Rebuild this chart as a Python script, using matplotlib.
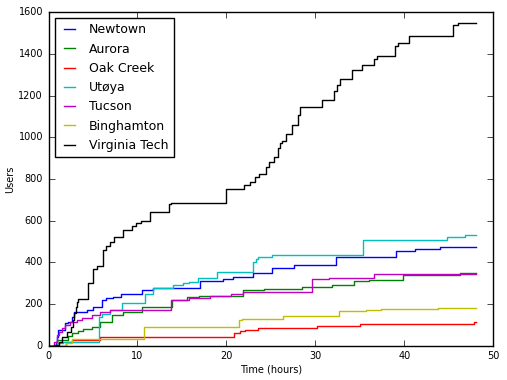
import matplotlib
matplotlib.use("Agg")
import matplotlib.pyplot as plt

plt.style.use("classic")

names = ["Newtown", "Aurora", "Oak Creek", "Utøya", "Tucson", "Binghamton", "Virginia Tech"]
colors = ["b", "g", "r", "c", "m", "y", "k"]

newtown_t = [0, 0.8, 1.0, 1.1, 1.8, 2.2, 2.6, 2.9, 4.3, 5.0, 6.0, 6.5, 7.3, 8.2, 10.5, 11.8, 17.0, 19.6, 20.7, 23.0, 25.1, 27.6, 32.3, 39.1, 41.2, 44.0, 48.0]
newtown_v = [0, 20, 43, 75, 107, 115, 139, 163, 170, 187, 219, 227, 235, 246, 267, 275, 310, 320, 331, 347, 371, 387, 424, 454, 462, 472, 472]

aurora_t = [0, 0.9, 2.2, 2.6, 3.35, 3.9, 4.85, 5.8, 7.1, 8.4, 10.5, 13.9, 15.6, 16.9, 21.9, 24.2, 28.5, 31.9, 34.3, 36.0, 39.8, 46.3, 48.0]
aurora_v = [0, 27, 47, 59, 70, 79, 91, 115, 147, 163, 187, 219, 232, 238, 265, 270, 283, 290, 310, 315, 338, 347, 347]

oakcreek_t = [0, 2.0, 2.6, 5.8, 20.9, 21.5, 22.1, 23.5, 30.2, 35.0, 47.8, 48.0]
oakcreek_v = [0, 16, 27, 43, 62, 69, 75, 83, 94, 103, 115, 115]

utoya_t = [0, 0.6, 1.0, 1.6, 5.7, 6.0, 6.9, 8.3, 10.9, 11.8, 14.0, 15.1, 15.8, 16.8, 18.9, 23.0, 23.3, 23.6, 25.1, 35.3, 44.8, 46.8, 48.0]
utoya_v = [0, 5, 12, 19, 139, 152, 171, 206, 248, 275, 291, 302, 307, 323, 355, 403, 414, 424, 435, 507, 520, 530, 530]

tucson_t = [0, 0.6, 0.9, 1.2, 1.5, 1.9, 2.4, 3.2, 3.8, 4.9, 5.8, 6.9, 13.8, 15.8, 18.2, 20.5, 21.9, 29.6, 31.5, 36.6, 48.0]
tucson_v = [0, 20, 51, 67, 83, 99, 115, 125, 135, 147, 163, 173, 221, 227, 238, 248, 259, 318, 325, 342, 342]

bing_t = [0, 2.0, 2.6, 10.7, 21.4, 21.7, 26.4, 32.7, 35.7, 37.4, 43.8, 48.0]
bing_v = [0, 12, 30, 91, 123, 128, 144, 166, 171, 175, 182, 182]

vt_t = [0, 0.6, 1.2, 1.55, 2.1, 2.5, 2.7, 2.9, 3.05, 3.2, 3.3, 4.4, 5.0, 5.4, 6.1, 6.5, 6.9, 7.4, 8.4, 9.4, 9.8, 10.4, 11.4, 13.5, 13.8, 19.9, 22.0, 22.6, 23.2, 23.65, 24.4, 24.8, 25.3, 25.8, 26.05, 26.2, 26.7, 27.4, 28.0, 28.3, 30.7, 32.1, 32.45, 32.8, 34.1, 35.2, 36.6, 36.9, 38.9, 39.3, 40.5, 45.5, 46.0, 48.0]
vt_v = [0, 3, 19, 43, 67, 91, 123, 155, 187, 211, 222, 302, 366, 384, 459, 478, 499, 520, 555, 574, 587, 600, 640, 680, 683, 750, 771, 787, 808, 823, 859, 880, 906, 947, 974, 983, 1015, 1059, 1107, 1146, 1178, 1222, 1250, 1278, 1322, 1346, 1374, 1389, 1437, 1450, 1485, 1538, 1549, 1549]

series_t = [newtown_t, aurora_t, oakcreek_t, utoya_t, tucson_t, bing_t, vt_t]
series_v = [newtown_v, aurora_v, oakcreek_v, utoya_v, tucson_v, bing_v, vt_v]

xticks = [0, 10, 20, 30, 40, 50]
yticks = [0, 200, 400, 600, 800, 1000, 1200, 1400, 1600]

fig = plt.figure(figsize=(5.07, 3.8), dpi=100, facecolor="white")
ax = fig.add_axes([0.0957, 0.0903, 0.973 - 0.0957, 0.968 - 0.0903])

for t, v, name, c in zip(series_t, series_v, names, colors):
    ax.step(t, v, where="post", color=c, lw=1.0, label=name)

ax.set_xlim(0, 50)
ax.set_ylim(0, 1600)
ax.set_xticks(xticks)
ax.set_yticks(yticks)
ax.tick_params(labelsize=7, direction="in", length=4, top=True, right=True)
ax.set_xlabel("Time (hours)", fontsize=7, labelpad=2)
ax.set_ylabel("Users", fontsize=7, labelpad=2)

leg = ax.legend(loc="upper left", fontsize=9, handlelength=1.5, handletextpad=0.85,
                labelspacing=0.5, borderaxespad=0.5, fancybox=False, shadow=False,
                frameon=True)
leg.get_frame().set_edgecolor("black")
leg.get_frame().set_linewidth(1.0)

fig.savefig("out.png", dpi=100, facecolor="white")
